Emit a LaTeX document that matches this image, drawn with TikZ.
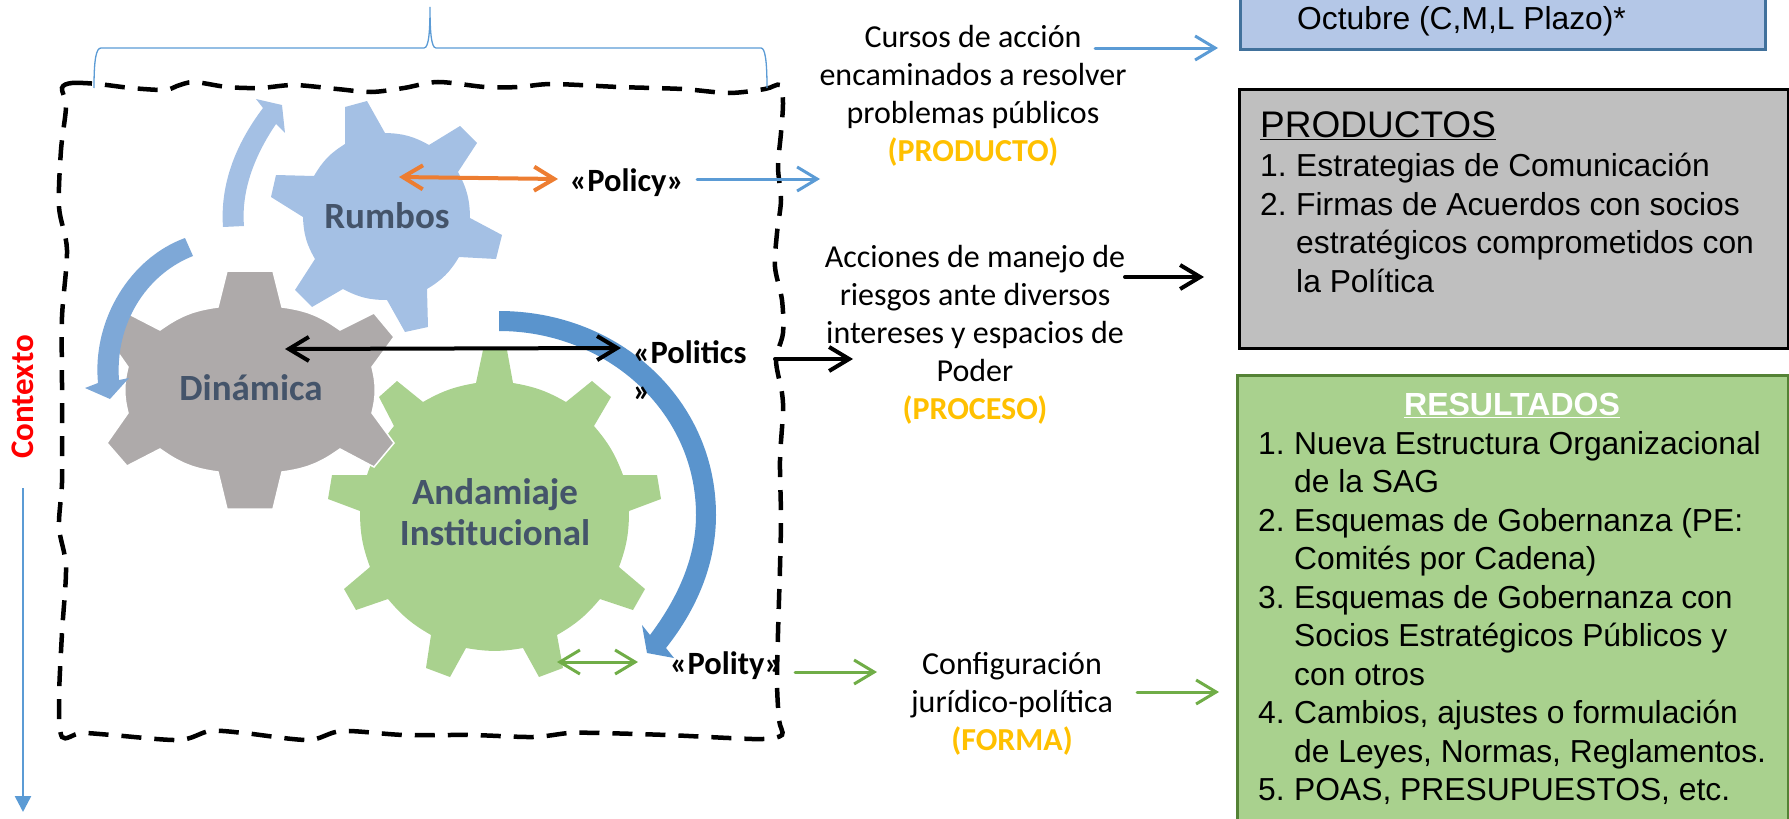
\documentclass[tikz,border=0pt]{standalone}
\usepackage{fontspec}
\setmainfont{Carlito}
\newfontfamily\arialfont{Liberation Sans}
\usetikzlibrary{arrows.meta}
\definecolor{rumboblue}{HTML}{A4C0E4}
\definecolor{dinagray}{HTML}{AEAAAA}
\definecolor{andagreen}{HTML}{A9D18E}
\definecolor{arrowlight}{HTML}{A4C0E4}
\definecolor{arrowmid}{HTML}{7EA8D7}
\definecolor{arrowdark}{HTML}{5A94CD}
\definecolor{linkblue}{HTML}{5B9BD5}
\definecolor{linkgreen}{HTML}{70AD47}
\definecolor{linkorange}{HTML}{ED7D31}
\definecolor{labelslate}{HTML}{44546A}
\definecolor{tagyellow}{HTML}{FFC000}
\definecolor{planfill}{HTML}{B4C7E7}
\definecolor{planedge}{HTML}{41719C}
\definecolor{prodfill}{HTML}{BFBFBF}
\definecolor{resedge}{HTML}{548235}
\tikzstyle{gear}=[draw=none]
\tikzstyle{blockarrow}=[draw=none]
\tikzstyle{gearlabel}=[font=\fontsize{37}{41}\selectfont\bfseries, text=labelslate, align=center, inner sep=0pt]
\tikzstyle{polword}=[font=\fontsize{32.5}{38}\selectfont\bfseries, inner sep=0pt]
\tikzstyle{midtext}=[font=\fontsize{32}{38}\selectfont, align=center, inner sep=0pt]
\tikzstyle{outbox}=[inner sep=0pt, line width=3pt]
\tikzstyle{boxtext}=[font=\arialfont\fontsize{31.8}{38.5}\selectfont, align=left, anchor=north west, inner sep=0pt]
\tikzstyle{link}=[line width=3pt, line cap=round, >={Straight Barb[length=20pt,width=24pt,line width=3pt]}]
\tikzstyle{heavylink}=[line width=4pt, line cap=round, >={Straight Barb[length=20pt,width=24pt,line width=4pt]}]
\newcommand{\numitem}[1]{\makebox[36pt][l]{#1}}
\newcommand{\contitem}{\hspace*{36pt}}

\begin{document}
\begin{tikzpicture}[x=1pt, y=-1pt]
\useasboundingbox (0, 0) rectangle (1789, 819);

% gears
\fill[gear, andagreen] (476,383) -- (483,350) -- (507,350) -- (513,383)
  to[bend left=10] (566,402) -- (592,381) -- (611,397) -- (594,426)
  to[bend left=10] (623,475) -- (657,475) -- (661,499) -- (629,511)
  to[bend left=10] (619,567) -- (645,589) -- (633,610) -- (600,599)
  to[bend left=10] (557,635) -- (563,668) -- (539,677) -- (523,648)
  to[bend left=10] (466,648) -- (450,677) -- (426,668) -- (431,635)
  to[bend left=10] (388,599) -- (356,610) -- (344,589) -- (370,567)
  to[bend left=10] (360,511) -- (328,499) -- (332,475) -- (367,475)
  to[bend left=10] (394,426) -- (379,397) -- (397,381) -- (423,402)
  to[bend left=10] cycle;
\filldraw[gear, draw=white, line width=1.5pt, fill=dinagray] (218,307) -- (227,271) -- (273,271) -- (282,307)
  to[bend left=14] (340,330) -- (374,313) -- (394,337) -- (372,367)
  to[bend left=14] (372,413) -- (394,443) -- (374,467) -- (340,449)
  to[bend left=14] (282,472) -- (273,509) -- (227,509) -- (218,472)
  to[bend left=14] (160,449) -- (127,466) -- (107,443) -- (128,413)
  to[bend left=14] (128,367) -- (107,337) -- (127,313) -- (160,330)
  to[bend left=14] cycle;
\fill[gear, rumboblue] (345,144) -- (345,107) -- (367,101) -- (385,133)
  to[bend left=14] (429,145) -- (460,126) -- (477,143) -- (458,172)
  to[bend left=14] (470,218) -- (502,235) -- (496,259) -- (459,257)
  to[bend left=14] (427,289) -- (428,327) -- (405,332) -- (387,300)
  to[bend left=14] (343,289) -- (312,307) -- (295,290) -- (315,259)
  to[bend left=14] (303,217) -- (271,197) -- (276,175) -- (314,176)
  to[bend left=14] cycle;

% cycle arrows
\fill[blockarrow, arrowlight] (223,227) .. controls (220,185) and (235,145) .. (263,108)
  -- (256,99) -- (282,105) -- (285,133) -- (276,124)
  .. controls (255,155) and (241,190) .. (244,226) -- cycle;
\fill[blockarrow, arrowmid] (185,238) .. controls (130,258) and (92,320) .. (98,383)
  -- (85,388) -- (110,399) -- (129,378) -- (119,380)
  .. controls (115,325) and (145,275) .. (193,256) -- cycle;
\fill[blockarrow, arrowdark] (499,311) .. controls (620,311) and (716,400) .. (716,515)
  .. controls (716,560) and (700,605) .. (666,648)
  -- (674,658) -- (647,653) -- (642,625) -- (650,635)
  .. controls (680,595) and (696,555) .. (696,515)
  .. controls (696,410) and (605,331) .. (499,331) -- cycle;

% frontier of the system
\draw[black, line width=4.5pt, dash pattern=on 20pt off 13pt] plot[smooth cycle] coordinates {
  (62,88) (72,83) (98,84) (131,88) (165,90) (177,86) (194,82) (227,87) (260,88) (294,85)
  (337,89) (371,92) (404,88) (438,82) (485,87) (519,87) (552,84) (619,87) (682,89) (729,93)
  (765,89) (780,85) (783,103) (781,133) (778,167) (781,200) (777,233) (775,267) (782,300)
  (783,333) (776,360) (782,393) (783,413) (780,460) (781,517) (780,567) (778,633) (777,683)
  (779,720) (782,735) (763,739) (729,738) (667,735) (600,733) (569,733) (533,737) (471,735)
  (404,735) (342,731) (308,740) (244,733) (210,731) (179,740) (112,735) (81,733) (62,737)
  (59,700) (62,633) (66,567) (59,527) (62,483) (62,427) (62,383) (62,317) (67,250) (59,207)
  (61,150) (66,107)};

% brace
\draw[linkblue, line width=1.3pt] (94,88) .. controls (94,60) and (96,48) .. (101,48) -- (424,48)
  .. controls (429,48) and (430,30) .. (430,7) .. controls (430,30) and (431,48) .. (436,48)
  -- (761,48) .. controls (765,48) and (767,60) .. (767,88);

% labels
\node[gearlabel] at (387, 216) (rumbos) {Rumbos};
\node[gearlabel] at (251, 388) (dinamica) {Dinámica};
\node[gearlabel] at (495, 512) (andamiaje) {Andamiaje\\Institucional};
\node[polword] at (627, 183) (policy) {«Policy»};
\node[polword, anchor=west, align=left] at (633, 371) (politics) {«Politics\\»};
\node[polword] at (726, 666) (polity) {«Polity»};
\node[font=\fontsize{33}{38}\selectfont\bfseries, text=red, rotate=90, inner sep=0pt] at (23, 397) (contexto) {Contexto};

\node[midtext] at (973, 96) (cursos) {Cursos de acción\\encaminados a resolver\\problemas públicos\\{\bfseries\color{tagyellow}(PRODUCTO)}};
\node[midtext] at (975, 335) (acciones) {Acciones de manejo de\\riesgos ante diversos\\intereses y espacios de\\Poder\\{\bfseries\color{tagyellow}(PROCESO)}};
\node[midtext] at (1012, 704) (config) {Configuración\\jurídico-política\\{\bfseries\color{tagyellow}(FORMA)}};

% boxes
\node[outbox, fill=planfill, draw=planedge, minimum width=525pt, minimum height=89pt] at (1502.5, 4.5) (planbox) {};
\node[outbox, fill=prodfill, draw=black, minimum width=549pt, minimum height=259pt] at (1513.5, 218.5) (prodbox) {};
\node[outbox, fill=andagreen, draw=resedge, minimum width=551pt, minimum height=480pt] at (1512.5, 615) (resbox) {};

\node[boxtext] at (1297, 6) (plantext) {Octubre (C,M,L Plazo)*};
\node[font=\arialfont\fontsize{37}{40}\selectfont, anchor=base west, inner sep=0pt] at (1260, 137) (prodtitle) {\underline{PRODUCTOS}};
\node[boxtext] at (1260, 153) (prodlist) {\numitem{1.}Estrategias de Comunicación\\
  \numitem{2.}Firmas de Acuerdos con socios\\
  \contitem estratégicos comprometidos con\\
  \contitem la Política};
\node[font=\arialfont\fontsize{32}{38.4}\selectfont\bfseries, text=white, inner sep=0pt] at (1512, 405) (restitle) {\underline{RESULTADOS}};
\node[boxtext] at (1258, 431) (reslist) {\numitem{1.}Nueva Estructura Organizacional\\
  \contitem de la SAG\\
  \numitem{2.}Esquemas de Gobernanza (PE:\\
  \contitem Comités por Cadena)\\
  \numitem{3.}Esquemas de Gobernanza con\\
  \contitem Socios Estratégicos Públicos y\\
  \contitem con otros\\
  \numitem{4.}Cambios, ajustes o formulación\\
  \contitem de Leyes, Normas, Reglamentos.\\
  \numitem{5.}POAS, PRESUPUESTOS, etc.};

% connector ends
\coordinate (rumboshub) at (399, 177);
\coordinate (policyin) at (558, 179);
\coordinate (dinahub) at (285, 349);
\coordinate (politicsend) at (621, 348);
\coordinate (gearedge) at (557, 662);
\coordinate (politygap) at (638, 662);
\coordinate (policyout) at (697, 179);
\coordinate (cursosin) at (820, 179);
\coordinate (cursosout) at (1095, 48);
\coordinate (planin) at (1218, 48);
\coordinate (politicsout) at (775, 359);
\coordinate (accionesin) at (853, 359);
\coordinate (accionesout) at (1125, 277);
\coordinate (prodin) at (1204, 277);
\coordinate (polityout) at (795, 672);
\coordinate (configin) at (877, 672);
\coordinate (configout) at (1137, 692);
\coordinate (resin) at (1219, 692);
\coordinate (contextotop) at (23, 488);
\coordinate (contextoend) at (23, 812);

% connectors
\draw[heavylink, <->, linkorange] (rumboshub) -- (policyin);
\draw[heavylink, <->, black] (dinahub) -- (politicsend);
\draw[link, <->, linkgreen] (gearedge) -- (politygap);
\draw[link, ->, linkblue] (policyout) -- (cursosin);
\draw[link, ->, linkblue] (cursosout) -- (planin);
\draw[heavylink, ->, black] (politicsout) -- (accionesin);
\draw[heavylink, ->, black] (accionesout) -- (prodin);
\draw[link, ->, linkgreen] (polityout) -- (configin);
\draw[link, ->, linkgreen] (configout) -- (resin);
\draw[-{Triangle[length=16pt,width=16pt]}, linkblue, line width=2.5pt] (contextotop) -- (contextoend);
\end{tikzpicture}
\end{document}
